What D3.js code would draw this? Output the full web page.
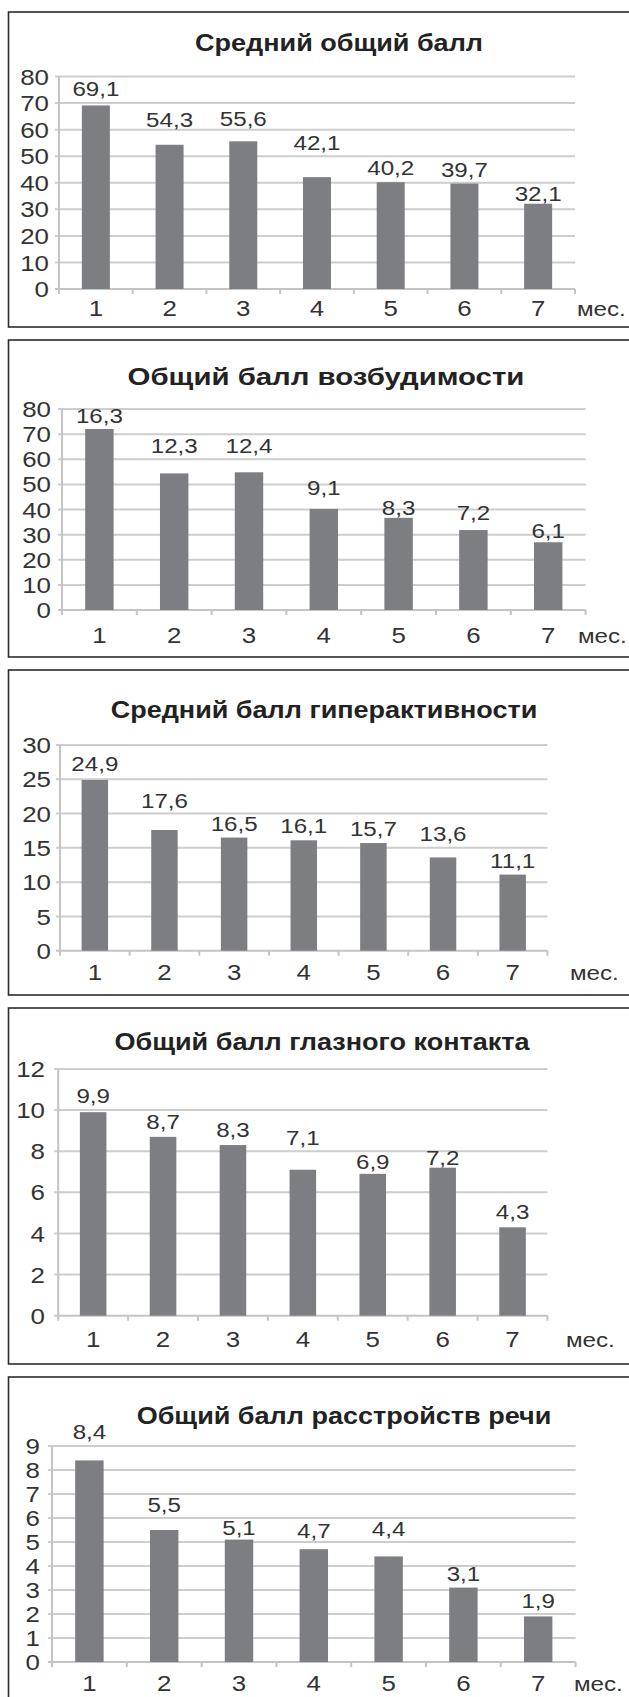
<!DOCTYPE html>
<html lang="ru">
<head>
<meta charset="utf-8">
<script src="https://cdn.jsdelivr.net/npm/d3@7"></script>
<style>
  html, body { margin: 0; padding: 0; background: #fff; }
  svg { display: block; }
  text { font-family: "Liberation Sans", Arial, sans-serif; fill: #333; }
</style>
</head>
<body>
<svg id="chart" width="629" height="1697"></svg>
<script>
// ---- data ----
const months = ["1", "2", "3", "4", "5", "6", "7"];
const unitLabel = "мес.";

const titles = [
  "Средний общий балл",
  "Общий балл возбудимости",
  "Средний балл гиперактивности",
  "Общий балл глазного контакта",
  "Общий балл расстройств речи"
];

const avgTotalScore   = [69.1, 54.3, 55.6, 42.1, 40.2, 39.7, 32.1];
const excitability    = [16.3, 12.3, 12.4, 9.1, 8.3, 7.2, 6.1];
const hyperactivity   = [24.9, 17.6, 16.5, 16.1, 15.7, 13.6, 11.1];
const eyeContact      = [9.9, 8.7, 8.3, 7.1, 6.9, 7.2, 4.3];
const speechDisorders = [8.4, 5.5, 5.1, 4.7, 4.4, 3.1, 1.9];

const ticks0to80 = [0, 10, 20, 30, 40, 50, 60, 70, 80];
const ticks0to30 = [0, 5, 10, 15, 20, 25, 30];
const ticks0to12 = [0, 2, 4, 6, 8, 10, 12];
const ticks0to9  = [0, 1, 2, 3, 4, 5, 6, 7, 8, 9];

// The excitability panel keeps the 0–80 axis of the first chart,
// while its bars are in score units: the full axis height equals 18.1 points.
const excitabilityBarMax = 18.1;

const series = [
  { title: titles[0], values: avgTotalScore,   ticks: ticks0to80, barMax: 80 },
  { title: titles[1], values: excitability,    ticks: ticks0to80, barMax: excitabilityBarMax },
  { title: titles[2], values: hyperactivity,   ticks: ticks0to30, barMax: 30 },
  { title: titles[3], values: eyeContact,      ticks: ticks0to12, barMax: 12 },
  { title: titles[4], values: speechDisorders, ticks: ticks0to9,  barMax: 9 }
];

// ---- layout of the five framed panels ----
// labelGap: distance in px from each bar top to its value label baseline
const layout = [
  { top: 12,   bottom: 327,  titleX: 339, titleY: 51,   titleStretch: 1.15,
    x0: 59,   x1: 575,   yTop: 76.5, y0: 289,    labelY: 316,  unitX: 577, tickRight: 49,
    labelGap: [9, 18, 15, 27, 7, 7, 3] },
  { top: 340,  bottom: 657,  titleX: 326, titleY: 385,  titleStretch: 1.25,
    x0: 62,   x1: 585.6, yTop: 409,  y0: 610,    labelY: 643,  unitX: 578, tickRight: 51,
    labelGap: [6, 20, 19, 14, 3, 10, 4] },
  { top: 670,  bottom: 995,  titleX: 324, titleY: 718,  titleStretch: 1.15,
    x0: 60,   x1: 547.5, yTop: 745,  y0: 950.7,  labelY: 980,  unitX: 570, tickRight: 51,
    labelGap: [9, 22, 7, 7, 7, 16, 7] },
  { top: 1008, bottom: 1364, titleX: 322, titleY: 1050, titleStretch: 1.15,
    x0: 58.2, x1: 547.5, yTop: 1069, y0: 1315.7, labelY: 1347, unitX: 566, tickRight: 45,
    labelGap: [9, 8, 8, 25, 5, 3, 8] },
  { top: 1377, bottom: 1710, titleX: 344, titleY: 1424, titleStretch: 1.15,
    x0: 52,   x1: 575.6, yTop: 1446, y0: 1662,   labelY: 1691, unitX: 574, tickRight: 40,
    labelGap: [21, 18, 5, 11, 20, 7, 8] }
];

const style = {
  frame: "#2b2b2b",
  grid: "#cdcdcd",
  axis: "#c4c4c4",
  bar: "#7d7e82",
  textStretch: 1.15,
  titleSize: 23.5,
  tickSize: 22.5,
  valueSize: 21,
  categorySize: 22.5
};

const ruFormat = d3.formatLocale({
  decimal: ",", thousands: "\u00a0", grouping: [3], currency: ["", " ₽"]
}).format(".1f");

const svg = d3.select("#chart");

// horizontally stretched text placed at (x, y)
function stretchedText(g, x, y, str, size, anchor, weight, stretch) {
  return g.append("text")
    .attr("transform", `translate(${x},${y}) scale(${stretch || style.textStretch},1)`)
    .attr("text-anchor", anchor)
    .attr("font-size", size)
    .attr("font-weight", weight || "normal")
    .text(str);
}

series.forEach((s, i) => {
  const L = layout[i];
  const g = svg.append("g").attr("class", "panel");

  // frame
  g.append("rect")
    .attr("x", 8.5).attr("y", L.top)
    .attr("width", 640).attr("height", L.bottom - L.top)
    .attr("fill", "none")
    .attr("stroke", style.frame)
    .attr("stroke-width", 1.6);

  // scales
  const x = d3.scaleBand()
    .domain(months)
    .range([L.x0, L.x1])
    .paddingInner(0.62)
    .paddingOuter(0.31);

  const tickMax = d3.max(s.ticks);
  const yAxisScale = d3.scaleLinear().domain([0, tickMax]).range([L.y0, L.yTop]);
  const yBar = d3.scaleLinear().domain([0, s.barMax]).range([L.y0, L.yTop]);

  // gridlines
  g.append("g").selectAll("line")
    .data(s.ticks.filter(t => t !== 0))
    .join("line")
    .attr("x1", L.x0 - 4).attr("x2", L.x1)
    .attr("y1", d => yAxisScale(d)).attr("y2", d => yAxisScale(d))
    .attr("stroke", style.grid)
    .attr("stroke-width", 2);

  // axis lines
  g.append("line")
    .attr("x1", L.x0).attr("x2", L.x0)
    .attr("y1", L.yTop).attr("y2", L.y0)
    .attr("stroke", style.axis).attr("stroke-width", 2);
  g.append("line")
    .attr("x1", L.x0 - 4).attr("x2", L.x1)
    .attr("y1", L.y0).attr("y2", L.y0)
    .attr("stroke", style.axis).attr("stroke-width", 2);

  // x axis tick marks at band boundaries
  const bounds = months.map(m => x(m) - x.step() * x.paddingInner() / 2);
  bounds.push(L.x1);
  g.append("g").selectAll("line")
    .data(bounds)
    .join("line")
    .attr("x1", d => d).attr("x2", d => d)
    .attr("y1", L.y0).attr("y2", L.y0 + 5)
    .attr("stroke", style.axis).attr("stroke-width", 2);

  // y tick labels
  const yl = g.append("g");
  s.ticks.forEach(t => {
    stretchedText(yl, L.tickRight, yAxisScale(t), String(t), style.tickSize, "end")
      .attr("dy", "0.36em");
  });

  // bars
  g.append("g").selectAll("rect")
    .data(s.values)
    .join("rect")
    .attr("x", (d, j) => x(months[j]))
    .attr("width", x.bandwidth())
    .attr("y", d => yBar(d))
    .attr("height", d => L.y0 - yBar(d))
    .attr("fill", style.bar);

  // value labels
  const vl = g.append("g");
  s.values.forEach((v, j) => {
    stretchedText(vl, x(months[j]) + x.bandwidth() / 2, yBar(v) - L.labelGap[j],
      ruFormat(v), style.valueSize, "middle");
  });

  // category labels
  const cl = g.append("g");
  months.forEach(m => {
    stretchedText(cl, x(m) + x.bandwidth() / 2, L.labelY, m, style.categorySize, "middle");
  });
  stretchedText(cl, L.unitX, L.labelY, unitLabel, style.categorySize - 1.5, "start");

  // title
  stretchedText(g, L.titleX, L.titleY, s.title, style.titleSize, "middle", "bold", L.titleStretch)
    .style("fill", "#222");
});
</script>
</body>
</html>
